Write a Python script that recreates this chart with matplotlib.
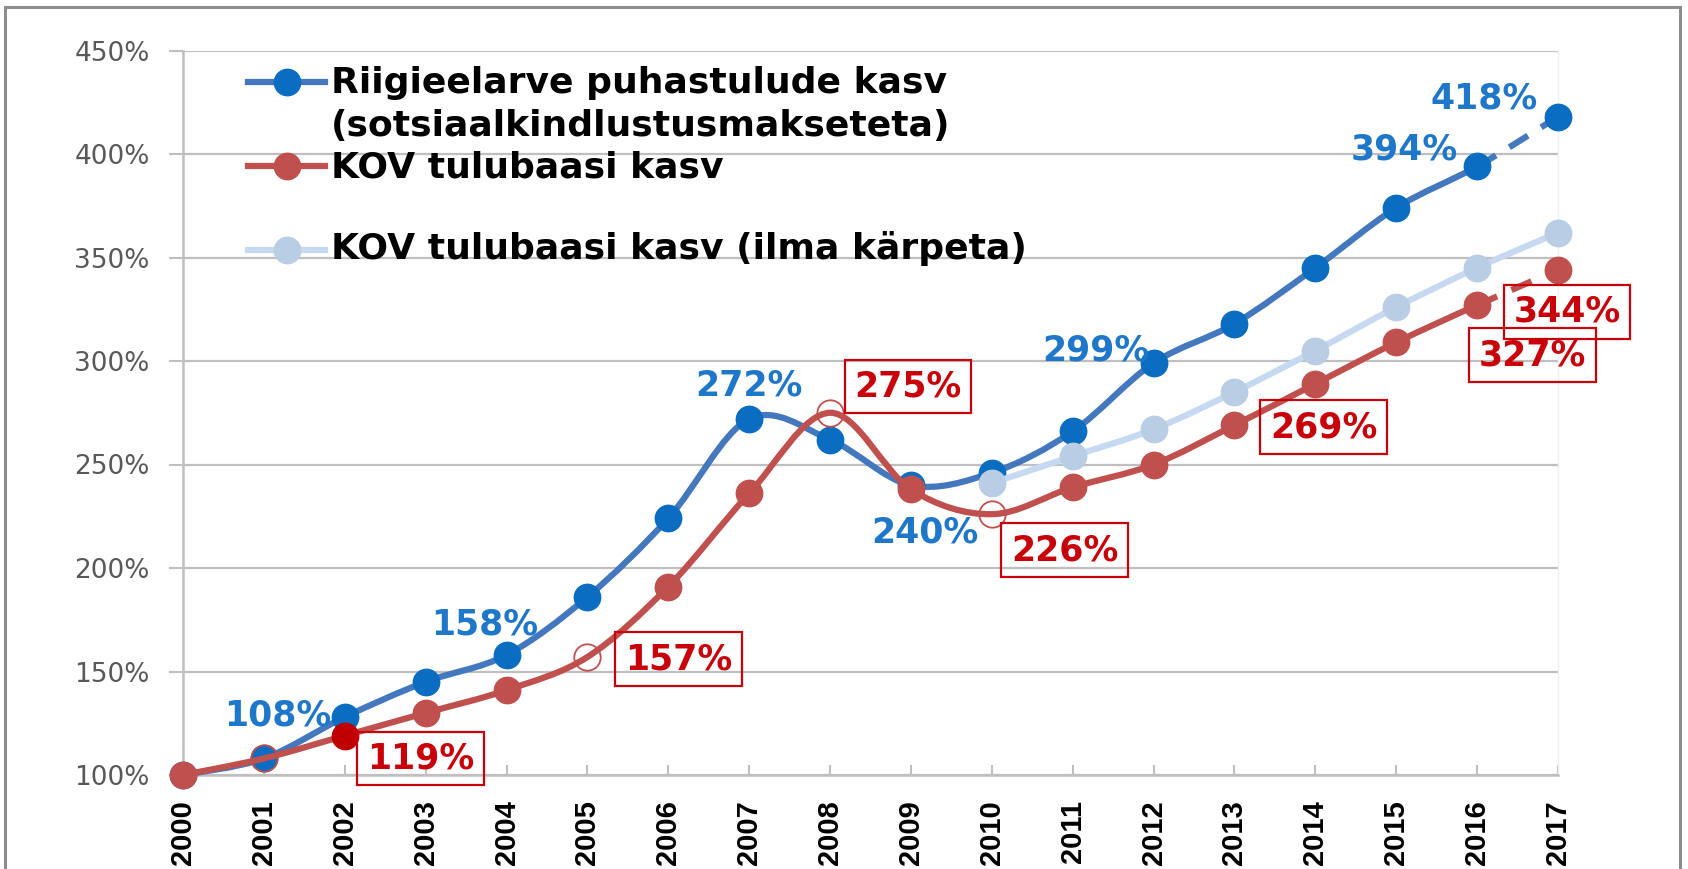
import numpy as np
import matplotlib
matplotlib.use("Agg")
import matplotlib.pyplot as plt
from matplotlib.path import Path
from matplotlib.patches import PathPatch, Rectangle
from matplotlib.lines import Line2D
from matplotlib.ticker import FuncFormatter, MultipleLocator

# ---------------- data ----------------
years = list(range(2000, 2018))
riigi = [100, 108, 128, 145, 158, 186, 224, 272, 262, 240, 246, 266, 299, 318, 345, 374, 394, 418]
kov = [100, 108, 119, 130, 141, 157, 191, 236, 275, 238, 226, 239, 250, 269, 289, 309, 327, 344]
ilma_years = list(range(2010, 2018))
kov_ilma = [241, 254, 267, 285, 305, 326, 345, 362]

riigi_label_years = [2001, 2004, 2007, 2009, 2012, 2016, 2017]
kov_label_years = [2002, 2005, 2008, 2010, 2013, 2016, 2017]
kov_hollow_years = [2001, 2005, 2008, 2010]
kov_dark_years = [2002]

legend_labels = ["Riigieelarve puhastulude kasv\n(sotsiaalkindlustusmakseteta)",
                 "KOV tulubaasi kasv",
                 "KOV tulubaasi kasv (ilma kärpeta)"]

# ---------------- styles ----------------
W, H = 1688, 869
BLUE_LINE = "#4478BE"
BLUE_MK = "#0A6DC2"
RED_LINE = "#C0504D"
RED_MK = "#C0504D"
RED_DARK = "#C00000"
LB_LINE = "#C6D9F1"
LB_MK = "#B9CDE5"
BLUE_TXT = "#1F77C9"
RED_TXT = "#C8000A"
GRID = "#BFBFBF"

fig = plt.figure(figsize=(W / 100, H / 100), dpi=100)
ax = fig.add_axes([183 / W, 1 - 775 / H, (1558 - 183) / W, (775 - 50.5) / H])

ax.set_xlim(2000, 2017)
ax.set_ylim(100, 450)


def smooth_segments(x, y):
    pts = np.column_stack([x, y]).astype(float)
    n = len(pts)
    segs = []
    for i in range(n - 1):
        p0 = pts[i - 1] if i > 0 else pts[i]
        p1 = pts[i]
        p2 = pts[i + 1]
        p3 = pts[i + 2] if i + 2 < n else pts[i + 1]
        c1 = p1 + (p2 - p0) / 6.0
        c2 = p2 - (p3 - p1) / 6.0
        segs.append((p1, c1, c2, p2))
    return segs


def path_from(segs):
    verts = [segs[0][0]]
    codes = [Path.MOVETO]
    for (_, c1, c2, p2) in segs:
        verts += [c1, c2, p2]
        codes += [Path.CURVE4] * 3
    return Path(np.array(verts), codes)


def draw_line(x, y, color, lw, z, dashed_last=False):
    segs = smooth_segments(x, y)
    solid = segs[:-1] if dashed_last else segs
    ax.add_patch(PathPatch(path_from(solid), fill=False, ec=color, lw=lw,
                           capstyle="round", joinstyle="round", zorder=z, clip_on=False))
    if dashed_last:
        ax.add_patch(PathPatch(path_from(segs[-1:]), fill=False, ec=color, lw=lw,
                               linestyle=(0, (3.5, 2.5)), zorder=z, clip_on=False))


MS = 19
# blue series
draw_line(years, riigi, BLUE_LINE, 4.5, 3, dashed_last=True)
ax.plot(years, riigi, "o", ms=MS, color=BLUE_MK, mec=BLUE_MK, zorder=4, clip_on=False)

# red series
draw_line(years, kov, RED_LINE, 4.5, 5, dashed_last=True)
normal_idx = [i for i, yv in enumerate(years) if yv not in kov_hollow_years + kov_dark_years]
hollow_idx = [years.index(yv) for yv in kov_hollow_years]
dark_idx = [years.index(yv) for yv in kov_dark_years]
ax.plot(years, kov, "o", ms=MS, color=RED_MK, mec=RED_MK, markevery=normal_idx,
        linestyle="none", zorder=6, clip_on=False)
ax.plot(years, kov, "o", ms=MS, mfc="none", mec=RED_MK, mew=1.3, markevery=hollow_idx,
        linestyle="none", zorder=6, clip_on=False)
ax.plot(years, kov, "o", ms=MS, color=RED_DARK, mec=RED_DARK, markevery=dark_idx,
        linestyle="none", zorder=6, clip_on=False)

# light blue series
draw_line(ilma_years, kov_ilma, LB_LINE, 4.5, 7)
ax.plot(ilma_years, kov_ilma, "o", ms=MS, color=LB_MK, mec=LB_MK, zorder=8, clip_on=False)

# ---------------- labels ----------------
blue_off = [(14, 43), (-22, 30), (0, 33), (14, -47), (-58, 13), (-73, 17), (-74, 18)]
red_off = [(76, -23), (91, -2), (78, 26), (73, -36), (89, -2), (55, -50), (9, -42)]

for yr, off in zip(riigi_label_years, blue_off):
    v = riigi[years.index(yr)]
    ax.annotate(f"{v:.0f}%", xy=(yr, v), xytext=off, textcoords="offset pixels",
                ha="center", va="center", fontsize=25, fontweight="bold",
                color=BLUE_TXT, family="DejaVu Sans", zorder=10, annotation_clip=False)

for yr, off in zip(kov_label_years, red_off):
    v = kov[years.index(yr)]
    ax.annotate(f"{v:.0f}%", xy=(yr, v), xytext=off, textcoords="offset pixels",
                ha="center", va="center", fontsize=25, fontweight="bold",
                color=RED_TXT, family="DejaVu Sans", zorder=10, annotation_clip=False,
                bbox=dict(boxstyle="square,pad=0.28", fc="none", ec=RED_TXT, lw=1.6))

# ---------------- axes styling ----------------
ax.yaxis.set_major_locator(MultipleLocator(50))
ax.yaxis.set_major_formatter(FuncFormatter(lambda v, p: f"{v:.0f}%"))
ax.set_xticks(years)
ax.set_xticklabels([str(y) for y in years], rotation=90, family="Liberation Sans",
                   fontsize=21, fontweight="bold", color="black")
for lab in ax.get_yticklabels():
    lab.set_family("DejaVu Sans")
ax.tick_params(axis="y", direction="out", length=10, width=1.5, color=GRID,
               labelsize=19, labelcolor="#595959", pad=14)
ax.tick_params(axis="x", direction="in", length=7, width=1.5, color=GRID, pad=18)
ax.grid(axis="y", color=GRID, lw=1.6, zorder=0)
ax.set_axisbelow(True)
for s in ["left", "bottom"]:
    ax.spines[s].set_color(GRID)
    ax.spines[s].set_linewidth(1.8)
ax.spines["top"].set_visible(False)
ax.spines["right"].set_color("#F0F0F0")
ax.spines["right"].set_linewidth(1)

# ---------------- legend (manual) ----------------
leg_y = [82, 166, 250]
leg_cols = [(BLUE_LINE, BLUE_MK), (RED_LINE, RED_MK), (LB_LINE, LB_MK)]
for ly, (lc, mc) in zip(leg_y, leg_cols):
    fig.add_artist(Line2D([248 / W, 325 / W], [1 - ly / H, 1 - ly / H], color=lc, lw=4.5,
                          transform=fig.transFigure, zorder=12))
    fig.add_artist(Line2D([287 / W], [1 - ly / H], marker="o", ms=MS, color=mc, mec=mc,
                          transform=fig.transFigure, zorder=13))
leg_text_y = [(83, legend_labels[0].split("\n")[0]), (126, legend_labels[0].split("\n")[1]),
              (168, legend_labels[1]), (248, legend_labels[2])]
for ty, t in leg_text_y:
    fig.text(331 / W, 1 - ty / H, t, ha="left", va="center", fontsize=26,
             fontweight="bold", color="black", family="DejaVu Sans", zorder=14)

# outer frame
fig.add_artist(Rectangle((5 / W, -0.05), (1680 - 5) / W, (H - 7) / H + 0.05,
                         transform=fig.transFigure, fill=False, ec="#8E8E8E", lw=2.2))

fig.savefig("out.png", dpi=100, facecolor="white")
